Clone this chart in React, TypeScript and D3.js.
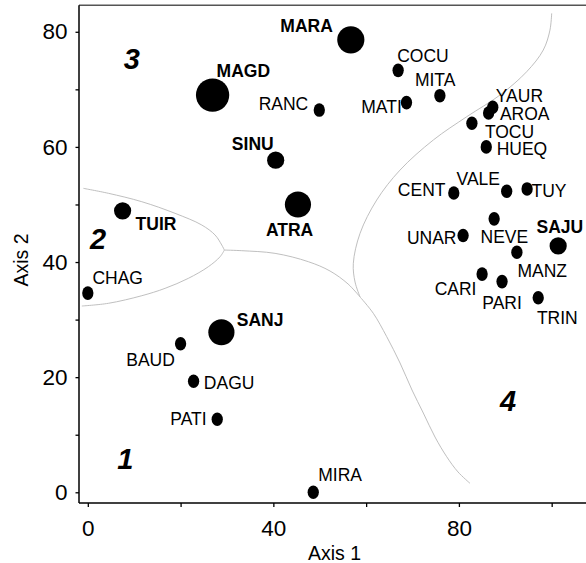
import React, { useEffect, useRef } from "react";
import * as d3 from "d3";

// site codes and their ordination scores
const sites = [
  "CHAG", "TUIR", "SANJ", "BAUD", "DAGU", "PATI", "MIRA", "MAGD", "SINU", "ATRA",
  "MARA", "RANC", "COCU", "MATI", "MITA", "YAUR", "AROA", "TOCU", "HUEQ", "CENT",
  "VALE", "TUY", "NEVE", "UNAR", "SAJU", "MANZ", "CARI", "PARI", "TRIN",
];
const axis1 = [
  0, 7.5, 28.8, 20.0, 22.8, 27.9, 48.6, 26.9, 40.5, 45.3,
  56.7, 49.9, 66.9, 68.7, 75.9, 87.3, 86.4, 82.8, 85.9, 78.9,
  90.3, 94.7, 87.6, 80.9, 101.4, 92.5, 85.0, 89.3, 97.1,
];
const axis2 = [
  34.6, 48.9, 27.8, 25.8, 19.3, 12.7, 0, 69.0, 57.7, 50.0,
  78.6, 66.4, 73.3, 67.7, 68.9, 66.9, 65.9, 64.1, 60.0, 52.0,
  52.3, 52.7, 47.5, 44.6, 42.8, 41.7, 37.9, 36.6, 33.8,
];
// relative weight of each site (drives dot size, bold label)
const weight = [
  1, 1.6, 3.7, 1, 1, 1, 1, 6, 1.6, 3.7,
  4, 1, 1, 1, 1, 1, 1, 1, 1, 1,
  1, 1, 1, 1, 1.6, 1, 1, 1, 1,
];

// group labels
const groupNames = ["1", "2", "3", "4"];
const groupX = [8.1, 2.2, 9.5, 90.6];
const groupY = [5.8, 44.0, 75.2, 15.9];

// group boundaries (axis units)
const boundaryTop: [number, number][] = [
  [-0.95, 52.8], [4.44, 51.94], [11.64, 50.48], [18.81, 48.46], [24.57, 46.43],
  [27.44, 44.69], [28.88, 42.95], [29.44, 42.08],
];
const boundaryBottom: [number, number][] = [
  [29.44, 42.08], [28.51, 40.92], [25.99, 39.19], [21.68, 37.17], [16.66, 35.43],
  [11.64, 34.15], [4.44, 32.83], [-1.29, 32.36],
];
const boundaryMiddle: [number, number][] = [
  [29.44, 42.08], [33.19, 41.97], [40.37, 41.51], [47.54, 40.06], [52.22, 38.44],
  [56.1, 36.19], [58.69, 33.93],
];
const boundaryRight: [number, number][] = [
  [100.0, 83.2], [99.63, 80.3], [98.19, 76.83], [94.61, 73.06], [88.86, 69.01],
  [81.68, 65.24], [74.48, 61.2], [67.31, 55.98], [62.28, 50.77], [58.69, 44.99],
  [57.24, 39.78], [57.61, 36.53], [58.69, 33.93],
];
const boundaryLow: [number, number][] = [
  [58.69, 33.93], [61.55, 31.09], [64.44, 27.03], [67.31, 22.46], [69.89, 17.77],
  [72.33, 13.77], [74.85, 9.6], [77.37, 6.18], [79.81, 3.53], [82.39, 1.56],
];

const xTicks = [0, 20, 40, 60, 80, 100];
const yTicks = [0, 10, 20, 30, 40, 50, 60, 70, 80];

// label placement: dx, dy (px from dot), anchor
const labelPos: Record<string, [number, number, string]> = {
  CHAG: [4.6, -9, "start"],
  TUIR: [13, 19, "start"],
  SANJ: [15.4, -6.3, "start"],
  BAUD: [-5.7, 22, "end"],
  DAGU: [10.3, 8, "start"],
  PATI: [-10.6, 6, "end"],
  MIRA: [5, -11.3, "start"],
  MAGD: [4, -18.3, "start"],
  SINU: [-2, -10.3, "end"],
  ATRA: [-32, 31.7, "start"],
  MARA: [-18, -8, "end"],
  RANC: [-11, 0, "end"],
  COCU: [-1, -8, "start"],
  MATI: [-4.7, 10.4, "end"],
  MITA: [-25, -9.7, "start"],
  YAUR: [3, -5.6, "start"],
  AROA: [11.3, 7.2, "start"],
  TOCU: [13, 15, "start"],
  HUEQ: [10.4, 8.3, "start"],
  CENT: [-8.3, 3.3, "end"],
  VALE: [-6.7, -6.7, "end"],
  TUY: [4.4, 8, "start"],
  NEVE: [-13.6, 23.7, "start"],
  UNAR: [-6.6, 8, "end"],
  SAJU: [-21.6, -12.7, "start"],
  MANZ: [0.6, 24.4, "start"],
  CARI: [-5.6, 21, "end"],
  PARI: [-19.7, 27.6, "start"],
  TRIN: [-1.3, 26.6, "start"],
};

const W = 586;
const H = 563;
const FONT = "'Liberation Sans', Arial, Helvetica, sans-serif";

export default function App() {
  const ref = useRef<SVGSVGElement>(null);

  useEffect(() => {
    const svg = d3.select(ref.current);
    svg.selectAll("*").remove();

    const left = 79, right = W, top = 5.3, bottom = 503;
    const x = d3.scaleLinear().domain([-1.9, 107.4]).range([left, right]);
    const y = d3.scaleLinear().domain([-1.86, 84.6]).range([bottom, top]);
    const r = d3.scaleSqrt().domain([0, 1]).range([0, 6.8]);

    // boundaries
    const line = d3.line<[number, number]>()
      .x(d => x(d[0]))
      .y(d => y(d[1]))
      .curve(d3.curveCatmullRom.alpha(0.5));
    [boundaryTop, boundaryBottom, boundaryMiddle, boundaryRight, boundaryLow].forEach(b => {
      svg.append("path")
        .attr("d", line(b))
        .attr("fill", "none")
        .attr("stroke", "#b8b8b8")
        .attr("stroke-width", 0.9);
    });

    // frame
    svg.append("line")
      .attr("x1", left).attr("x2", right).attr("y1", top).attr("y2", top)
      .attr("stroke", "#555").attr("stroke-width", 1.6);
    svg.append("line")
      .attr("x1", left).attr("x2", left).attr("y1", top).attr("y2", bottom)
      .attr("stroke", "#000").attr("stroke-width", 1.5);
    svg.append("line")
      .attr("x1", left).attr("x2", right).attr("y1", bottom).attr("y2", bottom)
      .attr("stroke", "#000").attr("stroke-width", 1.5);

    // axes
    const gx = svg.append("g")
      .attr("transform", `translate(0, ${bottom})`)
      .call(d3.axisBottom(x).tickValues(xTicks).tickSize(4).tickPadding(13)
        .tickFormat(d => (+d % 40 === 0 ? String(d) : "")));
    const gy = svg.append("g")
      .attr("transform", `translate(${left}, 0)`)
      .call(d3.axisLeft(y).tickValues(yTicks).tickSize(3.5).tickPadding(8)
        .tickFormat(d => (+d % 20 === 0 ? String(d) : "")));
    [gx, gy].forEach(g => {
      g.select(".domain").remove();
      g.selectAll("line").attr("stroke", "#000").attr("stroke-width", 1.3);
      g.selectAll("text")
        .attr("font-family", FONT)
        .attr("font-size", 22.5)
        .attr("fill", "#000");
    });

    svg.append("text")
      .attr("x", (left + right) / 2 + 2)
      .attr("y", 559.5)
      .attr("text-anchor", "middle")
      .attr("font-family", FONT)
      .attr("font-size", 19.5)
      .text("Axis 1");
    svg.append("text")
      .attr("transform", "rotate(-90)")
      .attr("x", -260)
      .attr("y", 28.3)
      .attr("text-anchor", "middle")
      .attr("font-family", FONT)
      .attr("font-size", 19.5)
      .text("Axis 2");

    // group numbers
    svg.selectAll(".grp")
      .data(groupNames)
      .join("text")
      .attr("class", "grp")
      .attr("x", (d, i) => x(groupX[i]))
      .attr("y", (d, i) => y(groupY[i]))
      .attr("text-anchor", "middle")
      .attr("dominant-baseline", "central")
      .attr("font-family", FONT)
      .attr("font-size", 29)
      .attr("font-weight", "bold")
      .attr("font-style", "italic")
      .text(d => d);

    const idx = d3.range(sites.length);

    // dots
    svg.selectAll(".dot")
      .data(idx)
      .join("ellipse")
      .attr("class", "dot")
      .attr("cx", i => x(axis1[i]))
      .attr("cy", i => y(axis2[i]))
      .attr("rx", i => (weight[i] === 1 ? r(weight[i]) * 0.83 : r(weight[i])))
      .attr("ry", i => r(weight[i]))
      .attr("fill", "#000");

    // labels
    svg.selectAll(".lbl")
      .data(idx)
      .join("text")
      .attr("class", "lbl")
      .attr("x", i => x(axis1[i]) + labelPos[sites[i]][0])
      .attr("y", i => y(axis2[i]) + labelPos[sites[i]][1])
      .attr("text-anchor", i => labelPos[sites[i]][2])
      .attr("font-family", FONT)
      .attr("font-size", 17.5)
      .attr("font-weight", i => (weight[i] > 1 ? "bold" : "normal"))
      .attr("fill", "#000")
      .text(i => sites[i]);
  }, []);

  return (
    <svg
      ref={ref}
      width={W}
      height={H}
      style={{ position: "absolute", left: 0, top: 0, background: "#fff" }}
    />
  );
}
